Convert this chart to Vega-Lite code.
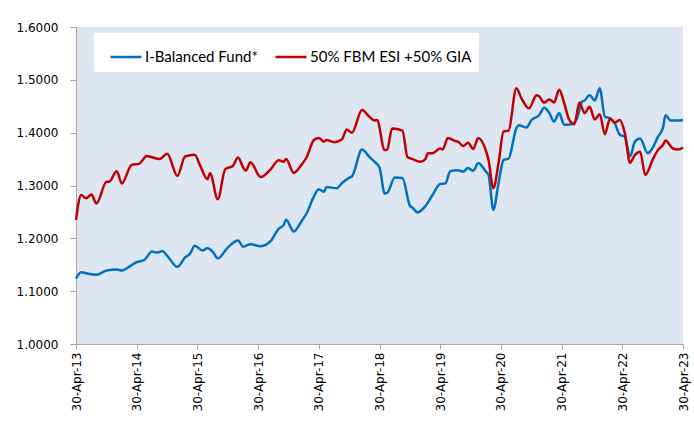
{
  "$schema": "https://vega.github.io/schema/vega-lite/v6.json",
  "width": 607,
  "height": 317,
  "autosize": {"type": "none"},
  "padding": {"left": 76, "top": 27, "right": 11, "bottom": 80},
  "background": "white",
  "config": {
    "view": {"fill": "#DEE6F2", "stroke": null},
    "font": "DejaVu Sans"
  },
  "datasets": {
    "fund": [
      {"date":"2013-04-30","value":1.124},{"date":"2013-05-31","value":1.136},{"date":"2013-06-30","value":1.134},{"date":"2013-08-31","value":1.131},
      {"date":"2013-10-31","value":1.139},{"date":"2013-12-31","value":1.141},{"date":"2014-01-31","value":1.139},{"date":"2014-03-15","value":1.146},
      {"date":"2014-04-30","value":1.155},{"date":"2014-06-15","value":1.159},{"date":"2014-07-31","value":1.175},{"date":"2014-08-31","value":1.173},
      {"date":"2014-09-30","value":1.176},{"date":"2014-10-31","value":1.167},{"date":"2014-12-31","value":1.146},{"date":"2015-02-15","value":1.164},
      {"date":"2015-03-15","value":1.170},{"date":"2015-04-15","value":1.186},{"date":"2015-05-31","value":1.177},{"date":"2015-06-30","value":1.181},
      {"date":"2015-07-31","value":1.175},{"date":"2015-08-31","value":1.162},{"date":"2015-10-31","value":1.183},{"date":"2015-12-31","value":1.196},
      {"date":"2016-01-31","value":1.184},{"date":"2016-03-15","value":1.189},{"date":"2016-05-15","value":1.185},{"date":"2016-07-15","value":1.195},
      {"date":"2016-08-31","value":1.218},{"date":"2016-09-30","value":1.225},{"date":"2016-10-15","value":1.235},{"date":"2016-11-30","value":1.213},
      {"date":"2017-01-15","value":1.232},{"date":"2017-02-15","value":1.247},{"date":"2017-03-31","value":1.279},{"date":"2017-04-30","value":1.293},
      {"date":"2017-05-31","value":1.288},{"date":"2017-06-15","value":1.297},{"date":"2017-08-15","value":1.295},{"date":"2017-09-15","value":1.304},
      {"date":"2017-10-31","value":1.315},{"date":"2017-11-15","value":1.317},{"date":"2018-01-15","value":1.368},{"date":"2018-02-28","value":1.354},
      {"date":"2018-03-31","value":1.345},{"date":"2018-04-30","value":1.334},{"date":"2018-05-31","value":1.285},{"date":"2018-06-15","value":1.286},
      {"date":"2018-07-31","value":1.315},{"date":"2018-09-15","value":1.314},{"date":"2018-10-31","value":1.261},{"date":"2018-11-15","value":1.258},
      {"date":"2018-12-15","value":1.249},{"date":"2019-01-31","value":1.261},{"date":"2019-03-15","value":1.282},{"date":"2019-04-30","value":1.303},
      {"date":"2019-05-31","value":1.304},{"date":"2019-06-30","value":1.327},{"date":"2019-08-15","value":1.329},{"date":"2019-09-15","value":1.326},
      {"date":"2019-10-15","value":1.333},{"date":"2019-11-15","value":1.328},{"date":"2019-12-15","value":1.342},{"date":"2020-01-31","value":1.326},
      {"date":"2020-02-15","value":1.320},{"date":"2020-03-15","value":1.254},{"date":"2020-04-15","value":1.304},{"date":"2020-05-15","value":1.348},
      {"date":"2020-06-15","value":1.351},{"date":"2020-07-31","value":1.408},{"date":"2020-08-15","value":1.414},{"date":"2020-09-30","value":1.410},
      {"date":"2020-10-31","value":1.424},{"date":"2020-12-15","value":1.433},{"date":"2021-01-15","value":1.447},{"date":"2021-02-15","value":1.437},
      {"date":"2021-03-15","value":1.421},{"date":"2021-04-15","value":1.437},{"date":"2021-05-15","value":1.415},{"date":"2021-06-30","value":1.416},
      {"date":"2021-07-31","value":1.427},{"date":"2021-08-31","value":1.459},{"date":"2021-09-15","value":1.461},{"date":"2021-10-15","value":1.471},
      {"date":"2021-11-15","value":1.461},{"date":"2021-12-15","value":1.484},{"date":"2022-01-15","value":1.430},{"date":"2022-02-15","value":1.427},
      {"date":"2022-03-15","value":1.418},{"date":"2022-04-15","value":1.396},{"date":"2022-05-15","value":1.392},{"date":"2022-06-15","value":1.355},
      {"date":"2022-07-15","value":1.383},{"date":"2022-08-15","value":1.389},{"date":"2022-09-30","value":1.361},{"date":"2022-10-31","value":1.372},
      {"date":"2022-11-30","value":1.392},{"date":"2022-12-31","value":1.410},{"date":"2023-01-15","value":1.433},{"date":"2023-02-15","value":1.423},
      {"date":"2023-03-31","value":1.423},{"date":"2023-04-30","value":1.424}
    ],
    "bench": [
      {"date":"2013-04-30","value":1.235},{"date":"2013-05-31","value":1.282},{"date":"2013-06-30","value":1.276},{"date":"2013-07-31","value":1.283},
      {"date":"2013-08-31","value":1.266},{"date":"2013-10-31","value":1.307},{"date":"2013-11-15","value":1.307},{"date":"2013-12-31","value":1.327},
      {"date":"2014-01-31","value":1.304},{"date":"2014-03-31","value":1.339},{"date":"2014-05-15","value":1.341},{"date":"2014-06-30","value":1.356},
      {"date":"2014-09-15","value":1.350},{"date":"2014-10-31","value":1.360},{"date":"2014-12-31","value":1.318},{"date":"2015-02-15","value":1.355},
      {"date":"2015-04-15","value":1.358},{"date":"2015-05-15","value":1.339},{"date":"2015-06-30","value":1.312},{"date":"2015-07-15","value":1.323},
      {"date":"2015-08-31","value":1.274},{"date":"2015-10-15","value":1.331},{"date":"2015-11-30","value":1.337},{"date":"2015-12-31","value":1.353},
      {"date":"2016-01-31","value":1.334},{"date":"2016-02-15","value":1.328},{"date":"2016-03-15","value":1.344},{"date":"2016-05-15","value":1.316},
      {"date":"2016-07-15","value":1.331},{"date":"2016-08-31","value":1.348},{"date":"2016-09-30","value":1.345},{"date":"2016-10-15","value":1.350},
      {"date":"2016-11-30","value":1.324},{"date":"2017-01-15","value":1.339},{"date":"2017-02-15","value":1.353},{"date":"2017-03-31","value":1.386},
      {"date":"2017-04-30","value":1.390},{"date":"2017-05-31","value":1.383},{"date":"2017-06-15","value":1.386},{"date":"2017-07-31","value":1.382},
      {"date":"2017-09-15","value":1.387},{"date":"2017-10-15","value":1.406},{"date":"2017-11-15","value":1.400},{"date":"2018-01-15","value":1.443},
      {"date":"2018-02-28","value":1.430},{"date":"2018-03-31","value":1.423},{"date":"2018-04-15","value":1.424},{"date":"2018-05-31","value":1.367},
      {"date":"2018-06-15","value":1.368},{"date":"2018-07-15","value":1.408},{"date":"2018-09-15","value":1.404},{"date":"2018-10-15","value":1.354},
      {"date":"2018-11-15","value":1.350},{"date":"2018-12-31","value":1.345},{"date":"2019-01-31","value":1.350},{"date":"2019-02-15","value":1.361},
      {"date":"2019-03-15","value":1.361},{"date":"2019-04-30","value":1.370},{"date":"2019-05-15","value":1.368},{"date":"2019-06-15","value":1.390},
      {"date":"2019-07-31","value":1.384},{"date":"2019-08-15","value":1.383},{"date":"2019-09-15","value":1.375},{"date":"2019-10-15","value":1.381},
      {"date":"2019-11-15","value":1.369},{"date":"2019-12-15","value":1.390},{"date":"2020-01-31","value":1.365},{"date":"2020-02-15","value":1.348},
      {"date":"2020-03-15","value":1.295},{"date":"2020-04-15","value":1.342},{"date":"2020-05-15","value":1.402},{"date":"2020-06-15","value":1.404},
      {"date":"2020-07-31","value":1.484},{"date":"2020-08-31","value":1.465},{"date":"2020-10-15","value":1.446},{"date":"2020-11-30","value":1.471},
      {"date":"2020-12-15","value":1.469},{"date":"2021-01-15","value":1.457},{"date":"2021-02-15","value":1.463},{"date":"2021-03-15","value":1.457},
      {"date":"2021-04-15","value":1.481},{"date":"2021-05-15","value":1.456},{"date":"2021-06-15","value":1.424},{"date":"2021-07-15","value":1.416},
      {"date":"2021-08-15","value":1.457},{"date":"2021-09-15","value":1.437},{"date":"2021-10-15","value":1.449},{"date":"2021-11-15","value":1.425},
      {"date":"2021-12-15","value":1.435},{"date":"2022-01-15","value":1.397},{"date":"2022-02-15","value":1.427},{"date":"2022-03-15","value":1.419},
      {"date":"2022-04-15","value":1.424},{"date":"2022-05-15","value":1.399},{"date":"2022-06-15","value":1.343},{"date":"2022-07-15","value":1.358},
      {"date":"2022-08-15","value":1.364},{"date":"2022-09-15","value":1.320},{"date":"2022-10-31","value":1.350},{"date":"2022-11-30","value":1.367},
      {"date":"2022-12-31","value":1.377},{"date":"2023-01-15","value":1.385},{"date":"2023-02-28","value":1.370},{"date":"2023-03-31","value":1.368},
      {"date":"2023-04-30","value":1.372}
    ]
  },
  "encoding": {
    "x": {
      "field": "date", "type": "temporal", "title": null,
      "scale": {"type": "utc", "domain": [{"year": 2013, "month": 4, "date": 30, "utc": true}, {"year": 2023, "month": 4, "date": 30, "utc": true}]},
      "axis": {
        "values": [
          {"year": 2013, "month": 4, "date": 30, "utc": true},{"year": 2014, "month": 4, "date": 30, "utc": true},
          {"year": 2015, "month": 4, "date": 30, "utc": true},{"year": 2016, "month": 4, "date": 30, "utc": true},
          {"year": 2017, "month": 4, "date": 30, "utc": true},{"year": 2018, "month": 4, "date": 30, "utc": true},
          {"year": 2019, "month": 4, "date": 30, "utc": true},{"year": 2020, "month": 4, "date": 30, "utc": true},
          {"year": 2021, "month": 4, "date": 30, "utc": true},{"year": 2022, "month": 4, "date": 30, "utc": true},
          {"year": 2023, "month": 4, "date": 30, "utc": true}
        ],
        "labelExpr": "utcFormat(datum.value, '%d-%b-%y')",
        "labelAngle": 270, "labelFontSize": 12, "labelColor": "#000000", "labelFont": "DejaVu Sans",
        "domainColor": "#A6A6A6", "tickColor": "#A6A6A6", "tickSize": 5, "labelPadding": 3,
        "grid": false, "labelOverlap": false, "labelFlush": false
      }
    },
    "y": {
      "field": "value", "type": "quantitative", "title": null,
      "scale": {"domain": [1.0, 1.6], "nice": false, "zero": false},
      "axis": {
        "values": [1.0, 1.1, 1.2, 1.3, 1.4, 1.5, 1.6],
        "format": ".4f", "labelFontSize": 12, "labelColor": "#000000", "labelFont": "DejaVu Sans",
        "domainColor": "#A6A6A6", "tickColor": "#A6A6A6", "tickSize": 6, "labelPadding": 12,
        "grid": false
      }
    },
    "color": {
      "field": "series", "type": "nominal",
      "scale": {"domain": ["I-Balanced Fund*", "50% FBM ESI +50% GIA"], "range": ["#0070C0", "#C00000"]},
      "legend": {
        "title": null, "orient": "none", "legendX": 18, "legendY": 6, "direction": "horizontal",
        "fillColor": "#FFFFFF", "padding": 7, "symbolType": "stroke", "symbolSize": 961,
        "symbolStrokeWidth": 2.5, "labelFont": "Lato", "labelFontSize": 15, "labelColor": "#000000",
        "labelOffset": 2, "columnPadding": 8, "symbolOffset": 8, "labelLimit": 300
      }
    }
  },
  "layer": [
    {
      "data": {"name": "fund"},
      "transform": [{"calculate": "'I-Balanced Fund*'", "as": "series"}],
      "mark": {"type": "line", "strokeWidth": 2.5, "interpolate": "monotone"}
    },
    {
      "data": {"name": "bench"},
      "transform": [{"calculate": "'50% FBM ESI +50% GIA'", "as": "series"}],
      "mark": {"type": "line", "strokeWidth": 2.5, "interpolate": "monotone"}
    }
  ]
}
